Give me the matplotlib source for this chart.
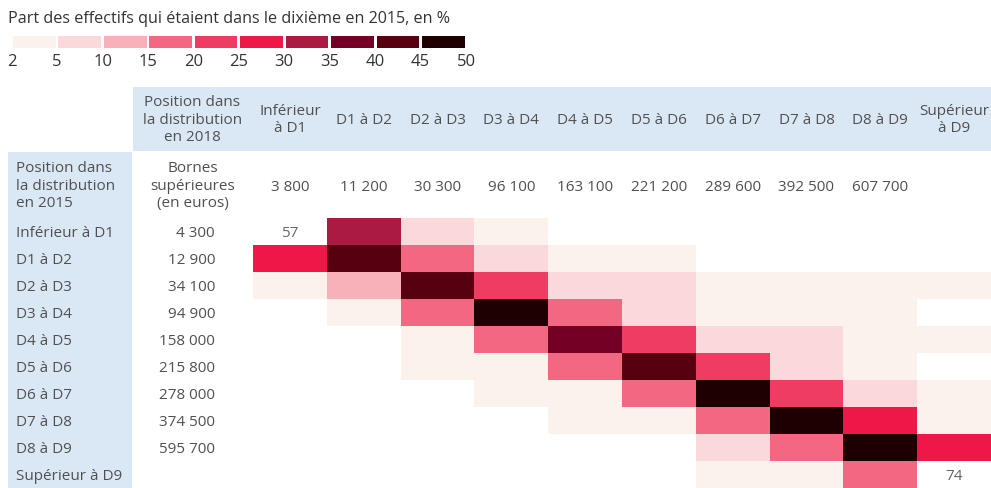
import numpy as np
import matplotlib
matplotlib.use("Agg")
import matplotlib.pyplot as plt
from matplotlib.colors import ListedColormap, BoundaryNorm
from matplotlib.patches import Rectangle

plt.rcParams['font.family'] = ['Open Sans', 'DejaVu Sans']

title = "Part des effectifs qui étaient dans le dixième en 2015, en %"
bounds = [2, 5, 10, 15, 20, 25, 30, 35, 40, 45, 50]
colors = ["#FCF2EC", "#FBD8DC", "#F8B1B8", "#F26782", "#EE3C62",
          "#EE1848", "#AB1A42", "#740026", "#560010", "#1E0002"]

cols_2018 = ["Inférieur\nà D1", "D1 à D2", "D2 à D3", "D3 à D4", "D4 à D5",
             "D5 à D6", "D6 à D7", "D7 à D8", "D8 à D9", "Supérieur\nà D9"]
bornes_2018 = ["3 800", "11 200", "30 300", "96 100", "163 100", "221 200",
               "289 600", "392 500", "607 700", ""]
rows_2015 = ["Inférieur à D1", "D1 à D2", "D2 à D3", "D3 à D4", "D4 à D5",
             "D5 à D6", "D6 à D7", "D7 à D8", "D8 à D9", "Supérieur à D9"]
bornes_2015 = ["4 300", "12 900", "34 100", "94 900", "158 000", "215 800",
               "278 000", "374 500", "595 700", ""]

# share (%) of 2015 decile found in each 2018 decile
share = np.array([
    [57, 32, 7, 3, 0, 0, 0, 0, 0, 0],
    [27, 42, 17, 7, 3, 3, 0, 0, 0, 0],
    [3, 12, 42, 22, 7, 6, 3, 2.5, 2.2, 2.1],
    [0, 3, 17, 47, 17, 8, 4, 3, 2.5, 1],
    [0, 1, 3, 16, 37, 22, 8, 6, 4, 3],
    [0, 0, 2.5, 4, 17, 42, 22, 8, 4, 1.5],
    [0, 0, 1, 3, 4, 17, 47, 22, 7, 3],
    [0, 0, 0, 1, 3, 4, 17, 48, 27, 4],
    [0, 0, 0, 0, 0, 1, 6, 16, 48, 27],
    [0, 0, 0, 0, 0, 0, 2, 3, 18, 74],
])

W, H = 991, 488
fig = plt.figure(figsize=(W / 100, H / 100), dpi=100)

# background layer in pixel units
bg = fig.add_axes([0, 0, 1, 1])
bg.set_xlim(0, W)
bg.set_ylim(H, 0)
bg.axis("off")

blue = "#DAE8F5"
txt = "#505050"
fs = 11
bg.add_patch(Rectangle((133, 87), W - 133, 63.5, color=blue, lw=0))
bg.add_patch(Rectangle((8, 152), 123.5, H - 152, color=blue, lw=0))

bg.text(8, 19, title, fontsize=11.6, color="#333333", va="center", ha="left")

x0, cw = 253, (W - 253) / 10
y0, rh = 218, 27
bg.text(192.5, 120, "Position dans\nla distribution\nen 2018", ha="center",
        va="center", fontsize=fs, color=txt, linespacing=1.2)
bg.text(192.5, 186, "Bornes\nsupérieures\n(en euros)", ha="center",
        va="center", fontsize=fs, color=txt, linespacing=1.2)
bg.text(16, 186, "Position dans\nla distribution\nen 2015", ha="left",
        va="center", fontsize=fs, color=txt, linespacing=1.2)
for j, (c, b) in enumerate(zip(cols_2018, bornes_2018)):
    xc = x0 + (j + 0.5) * cw
    bg.text(xc, 120, c, ha="center", va="center", fontsize=fs, color=txt,
            linespacing=1.2)
    bg.text(xc, 187.5, b, ha="center", va="center", fontsize=fs, color=txt)
for i, (r, b) in enumerate(zip(rows_2015, bornes_2015)):
    yc = y0 + (i + 0.5) * rh + 2
    bg.text(16, yc, r, ha="left", va="center", fontsize=fs, color=txt)
    bg.text(215, yc, b, ha="right", va="center", fontsize=fs, color=txt)

# heatmap
ax = fig.add_axes([x0 / W, 0, (W - x0) / W, (H - y0) / H])
cmap = ListedColormap(colors)
norm = BoundaryNorm(bounds, cmap.N)
masked = np.ma.masked_where((share < 2) | (share > 50), share)
ax.pcolormesh(np.arange(11), np.arange(11), masked, cmap=cmap, norm=norm)
for i in range(10):
    for j in range(10):
        if share[i, j] > 50:
            ax.text(j + 0.5, i + 0.58, f"{share[i, j]:.0f}", ha="center",
                    va="center", fontsize=fs, color="#666666")
ax.set_xlim(0, 10)
ax.set_ylim(10, 0)
ax.axis("off")

# legend
lg = fig.add_axes([11.7 / W, (H - 48) / H, (466 - 11.7) / W, 12 / H])
lg.bar(np.arange(10) + 0.5, 1, width=0.94, color=colors)
lg.set_xlim(0, 10)
lg.set_ylim(0, 1)
lg.set_xticks(np.arange(11))
lg.set_xticklabels([str(b) for b in bounds], fontsize=12, color="#333333")
lg.tick_params(length=0, pad=4)
lg.set_yticks([])
for s in lg.spines.values():
    s.set_visible(False)

fig.savefig("out.png", dpi=100)
